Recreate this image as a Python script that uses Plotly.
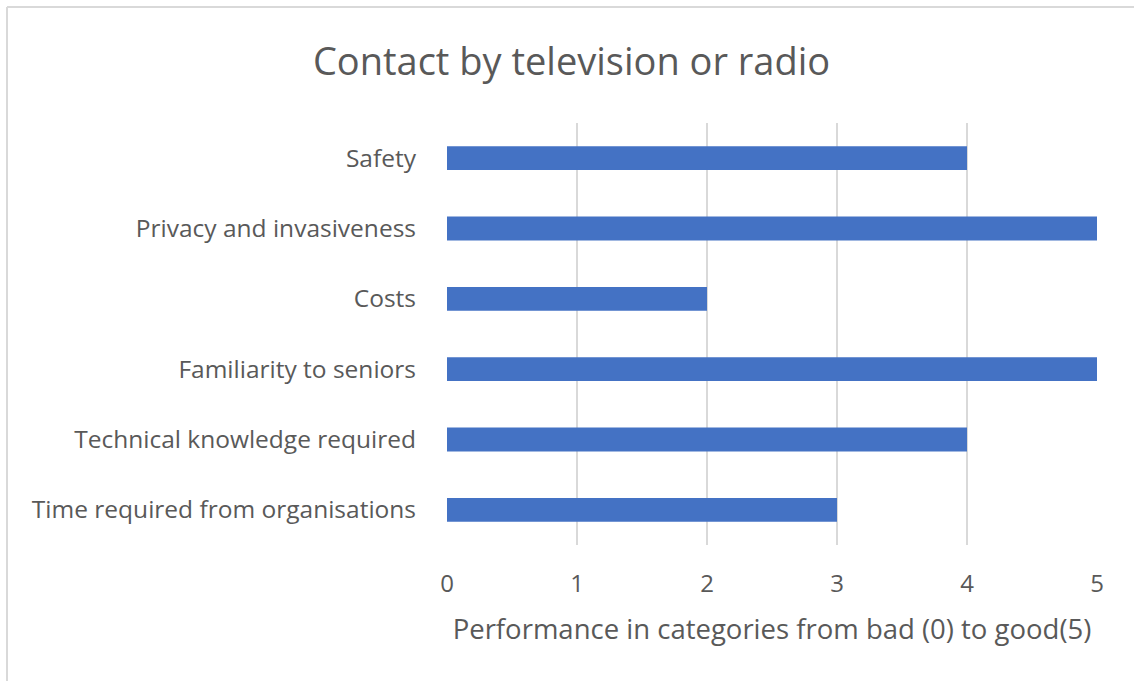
import plotly.graph_objects as go

categories = ["Safety", "Privacy and invasiveness", "Costs", "Familiarity to seniors",
              "Technical knowledge required", "Time required from organisations"]
values = [4, 5, 2, 5, 4, 3]
x_ticks = [0, 1, 2, 3, 4, 5]

GRAY = "#595959"
FONT = "Open Sans"

fig = go.Figure(go.Bar(
    x=values, y=categories, orientation="h",
    marker=dict(color="#4472c4", line=dict(width=0)),
))

W, H = 1134, 681
L, R, T, B = 447, 37, 123, 136
pw, ph = W - L - R, H - T - B

def px_x(p):
    return (p - L) / pw

def px_y(p):
    return (H - B - p) / ph

fig.update_layout(
    width=W, height=H,
    margin=dict(l=L, r=R, t=T, b=B),
    paper_bgcolor="white", plot_bgcolor="white",
    bargap=0.66,
    showlegend=False,
    font=dict(family=FONT, color=GRAY),
    title=dict(text="Contact by television or radio", x=0.504, xref="container",
               y=1 - 62 / H, yref="container", yanchor="middle",
               font=dict(size=38, color=GRAY, family=FONT)),
    xaxis=dict(range=[0, 5], tickvals=x_ticks, showgrid=True, gridcolor="#d9d9d9",
               gridwidth=2, zeroline=False, showline=False,
               tickfont=dict(size=24, color=GRAY), ticks="", ticklabelstandoff=22,
               title=dict(text="Performance in categories from bad (0) to good(5)",
                          font=dict(size=27.5, color=GRAY), standoff=21)),
    yaxis=dict(autorange="reversed", showgrid=False, zeroline=False, showline=False,
               tickfont=dict(size=24.5, color=GRAY), ticks="", ticklabelstandoff=30),
    shapes=[
        dict(type="line", xref="paper", yref="paper", x0=px_x(7), x1=px_x(1140),
             y0=px_y(7), y1=px_y(7), line=dict(color="#d9d9d9", width=2)),
        dict(type="line", xref="paper", yref="paper", x0=px_x(7), x1=px_x(7),
             y0=px_y(7), y1=px_y(690), line=dict(color="#d9d9d9", width=2)),
    ],
)

fig.write_html("out.html")
